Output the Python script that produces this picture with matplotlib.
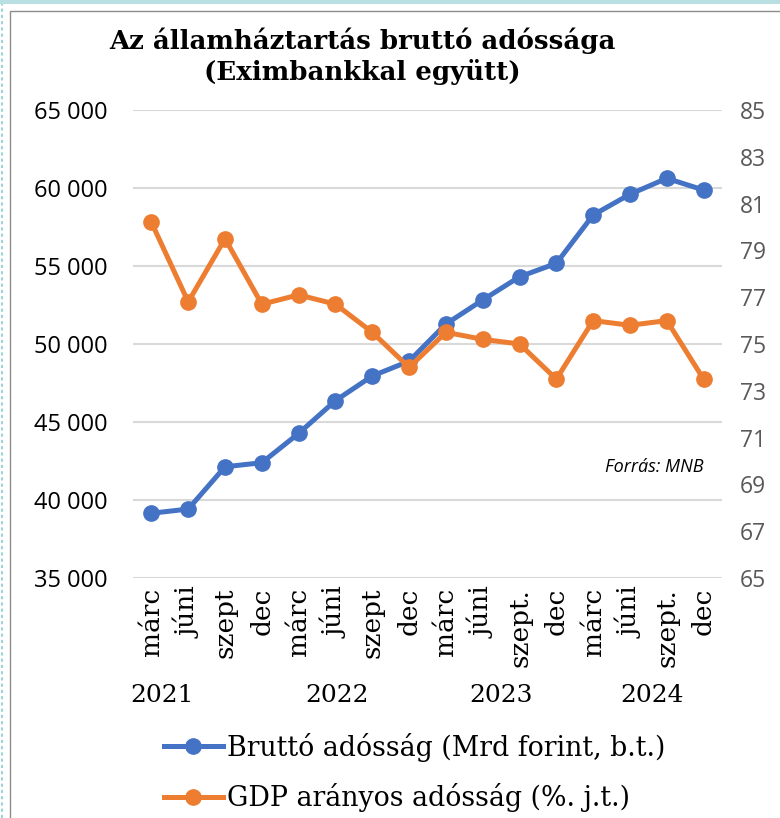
import numpy as np
import matplotlib.pyplot as plt
from matplotlib.patches import Rectangle
from matplotlib.lines import Line2D
from matplotlib.ticker import FuncFormatter

# adatok
honapok = ['márc', 'júni', 'szept', 'dec', 'márc', 'júni', 'szept', 'dec',
           'márc', 'júni', 'szept.', 'dec', 'márc', 'júni', 'szept.', 'dec']
evek = ['2021', '2022', '2023', '2024']
ev_pos = [0.3, 5.05, 9.5, 13.6]
brutto = [39150, 39420, 42130, 42390, 44270, 46370, 47950, 48900,
          51280, 52820, 54310, 55170, 58270, 59600, 60620, 59870]
gdp_arany = [80.2, 76.8, 79.5, 76.7, 77.1, 76.7, 75.5, 74.0,
             75.5, 75.2, 75.0, 73.5, 76.0, 75.8, 76.0, 73.5]

kek = '#4472C4'
narancs = '#ED7D31'
serif = 'DejaVu Serif'
sans = 'Open Sans'

fig = plt.figure(figsize=(7.8, 8.18), dpi=100)

# keret, mint az eredeti kepen
fig.patches.append(Rectangle((0, 1 - 4/818), 1, 4/818, transform=fig.transFigure,
                             facecolor='#b9dfe2', edgecolor='none'))
fig.lines.append(Line2D([1.5/780, 1.5/780], [0, 1 - 4/818], transform=fig.transFigure,
                        color='#9fd3d8', lw=1.5, ls=(0, (1.5, 1.5))))
fig.patches.append(Rectangle((10/780, -0.01), 0.99, 1 - 11.5/818 + 0.01,
                             transform=fig.transFigure, facecolor='none',
                             edgecolor='#8c8c8c', lw=1))

ax = fig.add_axes([133/780, 1 - 578/818, 589/780, 468/818])
ax2 = ax.twinx()
x = np.arange(len(honapok))

l1, = ax.plot(x, brutto, color=kek, lw=3.6, marker='o', ms=11, zorder=3,
              label='Bruttó adósság (Mrd forint, b.t.)')
l2, = ax2.plot(x, gdp_arany, color=narancs, lw=3.6, marker='o', ms=11, zorder=3,
               label='GDP arányos adósság (%. j.t.)')

ax.set_xlim(-0.5, 15.5)
ax.set_ylim(35000, 65000)
ax.set_yticks(np.arange(35000, 65001, 5000))
ax.yaxis.set_major_formatter(FuncFormatter(lambda v, p: f'{v:,.0f}'.replace(',', ' ')))
ax2.set_ylim(65, 85)
ax2.set_yticks(np.arange(65, 86, 2))

ax.grid(axis='y', color='#d9d9d9', lw=1.5)
ax.set_axisbelow(True)
for a in (ax, ax2):
    for s in a.spines.values():
        s.set_visible(False)

ax.set_xticks(x)
ax.set_xticklabels(honapok, rotation=90, fontsize=19, family=serif, va='top')
ax.tick_params(axis='x', length=0, pad=7)
ax.tick_params(axis='y', length=0, labelsize=17, pad=18)
ax2.tick_params(axis='y', length=0, labelsize=16.5, labelcolor='#595959', pad=13)
for t in ax.get_yticklabels() + ax2.get_yticklabels():
    t.set_family(sans)

for e, p in zip(evek, ev_pos):
    ax.text(p, -0.25, e, transform=ax.get_xaxis_transform(), ha='center', va='center',
            fontsize=18, family=serif)

ax.text(15.0, 0.237, 'Forrás: MNB', transform=ax.get_xaxis_transform(), ha='right',
        va='center', fontsize=13, style='italic', family=sans)

fig.text(362/780, 1 - 56/818, 'Az államháztartás bruttó adóssága\n(Eximbankkal együtt)',
         ha='center', va='center', fontsize=18.7, fontweight='bold', family=serif,
         linespacing=1.25)

leg = fig.legend(handles=[l1, l2], loc='upper left', bbox_to_anchor=(153/780, 1 - 722/818),
                 frameon=False, prop={'family': serif, 'size': 19.3}, handlelength=2.2,
                 handletextpad=0.15, labelspacing=0.8, borderaxespad=0)

fig.savefig('out.png', dpi=100)
